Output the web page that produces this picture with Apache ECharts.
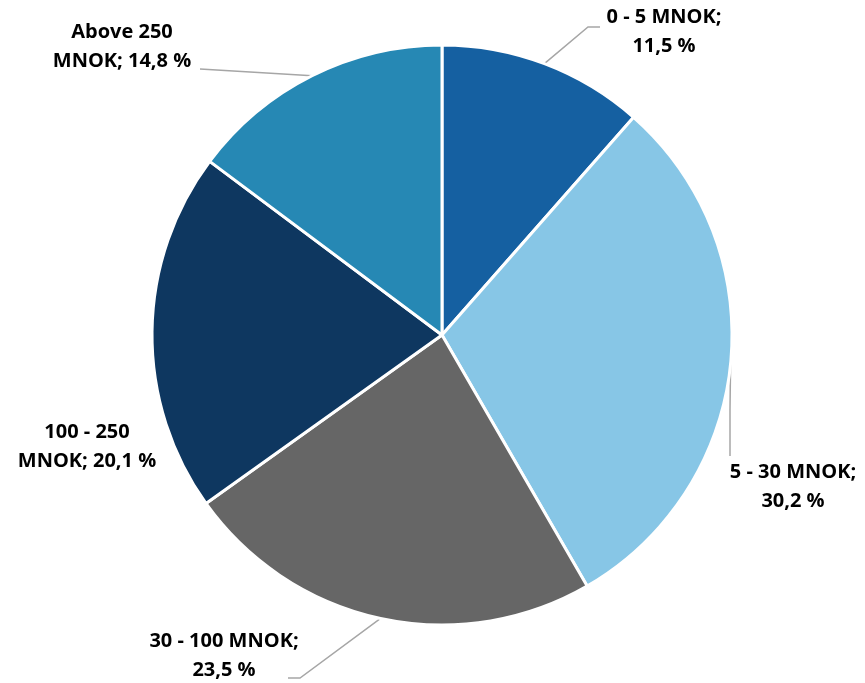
<!DOCTYPE html>
<html lang="en">
<head>
    <meta charset="utf-8">
    <style>
        html, body { margin: 0; padding: 0; background: #fff; }
        #chart { width: 865px; height: 683px; }
    </style>
</head>
<body>
<div id="chart"></div>
<script src="https://cdn.jsdelivr.net/npm/echarts@6.0.0/dist/echarts.min.js"></script>
<script type="text/javascript">

// data, clockwise from 12 o'clock
var categories = ['0 - 5 MNOK', '5 - 30 MNOK', '30 - 100 MNOK', '100 - 250 MNOK', 'Above 250 MNOK'];
var shares = [11.5, 30.2, 23.5, 20.1, 14.8];
var colors = ['#1560a1', '#87c6e6', '#666666', '#0e3760', '#2688b4'];

// label text as shown (line breaks like the original)
var labelTexts = [
    '0 - 5 MNOK;\n11,5 %',
    '5 - 30 MNOK;\n30,2 %',
    '30 - 100 MNOK;\n23,5 %',
    '100 - 250\nMNOK; 20,1 %',
    'Above 250\nMNOK; 14,8 %'
];

// where each label sits (center) and where its leader line ends
var labelPos = [[664, 32], [793, 487], [224, 656], [87, 447], [122, 47]];
var lineEnd = [[[588, 27], [600, 27]], [[730, 410], [730, 456]], [[300, 678], [288, 678]], null, [[250, 72], [200, 69]]];

var chart = echarts.init(document.getElementById('chart'));

var option = {
    animation: false,
    series: [{
        type: 'pie',
        center: [442, 335],
        radius: 290,
        startAngle: 90,
        clockwise: true,
        itemStyle: { borderColor: '#fff', borderWidth: 3 },
        label: {
            show: true,
            position: 'outside',
            overflow: 'none',
            color: '#000',
            fontFamily: 'Open Sans',
            fontWeight: 'bold',
            fontSize: 20,
            lineHeight: 29,
            align: 'center',
            formatter: function (p) { return labelTexts[p.dataIndex]; }
        },
        labelLine: {
            show: true,
            lineStyle: { color: '#a6a6a6', width: 1.5 }
        },
        labelLayout: function (p) {
            var i = p.dataIndex;
            var res = {
                x: labelPos[i][0],
                y: labelPos[i][1],
                align: 'center',
                verticalAlign: 'middle'
            };
            if (lineEnd[i]) {
                res.labelLinePoints = [p.labelLinePoints[0], lineEnd[i][0], lineEnd[i][1]];
            } else {
                res.labelLinePoints = [p.labelLinePoints[0], p.labelLinePoints[0], p.labelLinePoints[0]];
            }
            return res;
        },
        data: categories.map(function (name, i) {
            return {
                name: name,
                value: shares[i],
                itemStyle: { color: colors[i] },
                labelLine: { show: lineEnd[i] !== null }
            };
        })
    }]
};
chart.setOption(option);

</script>
</body>
</html>
